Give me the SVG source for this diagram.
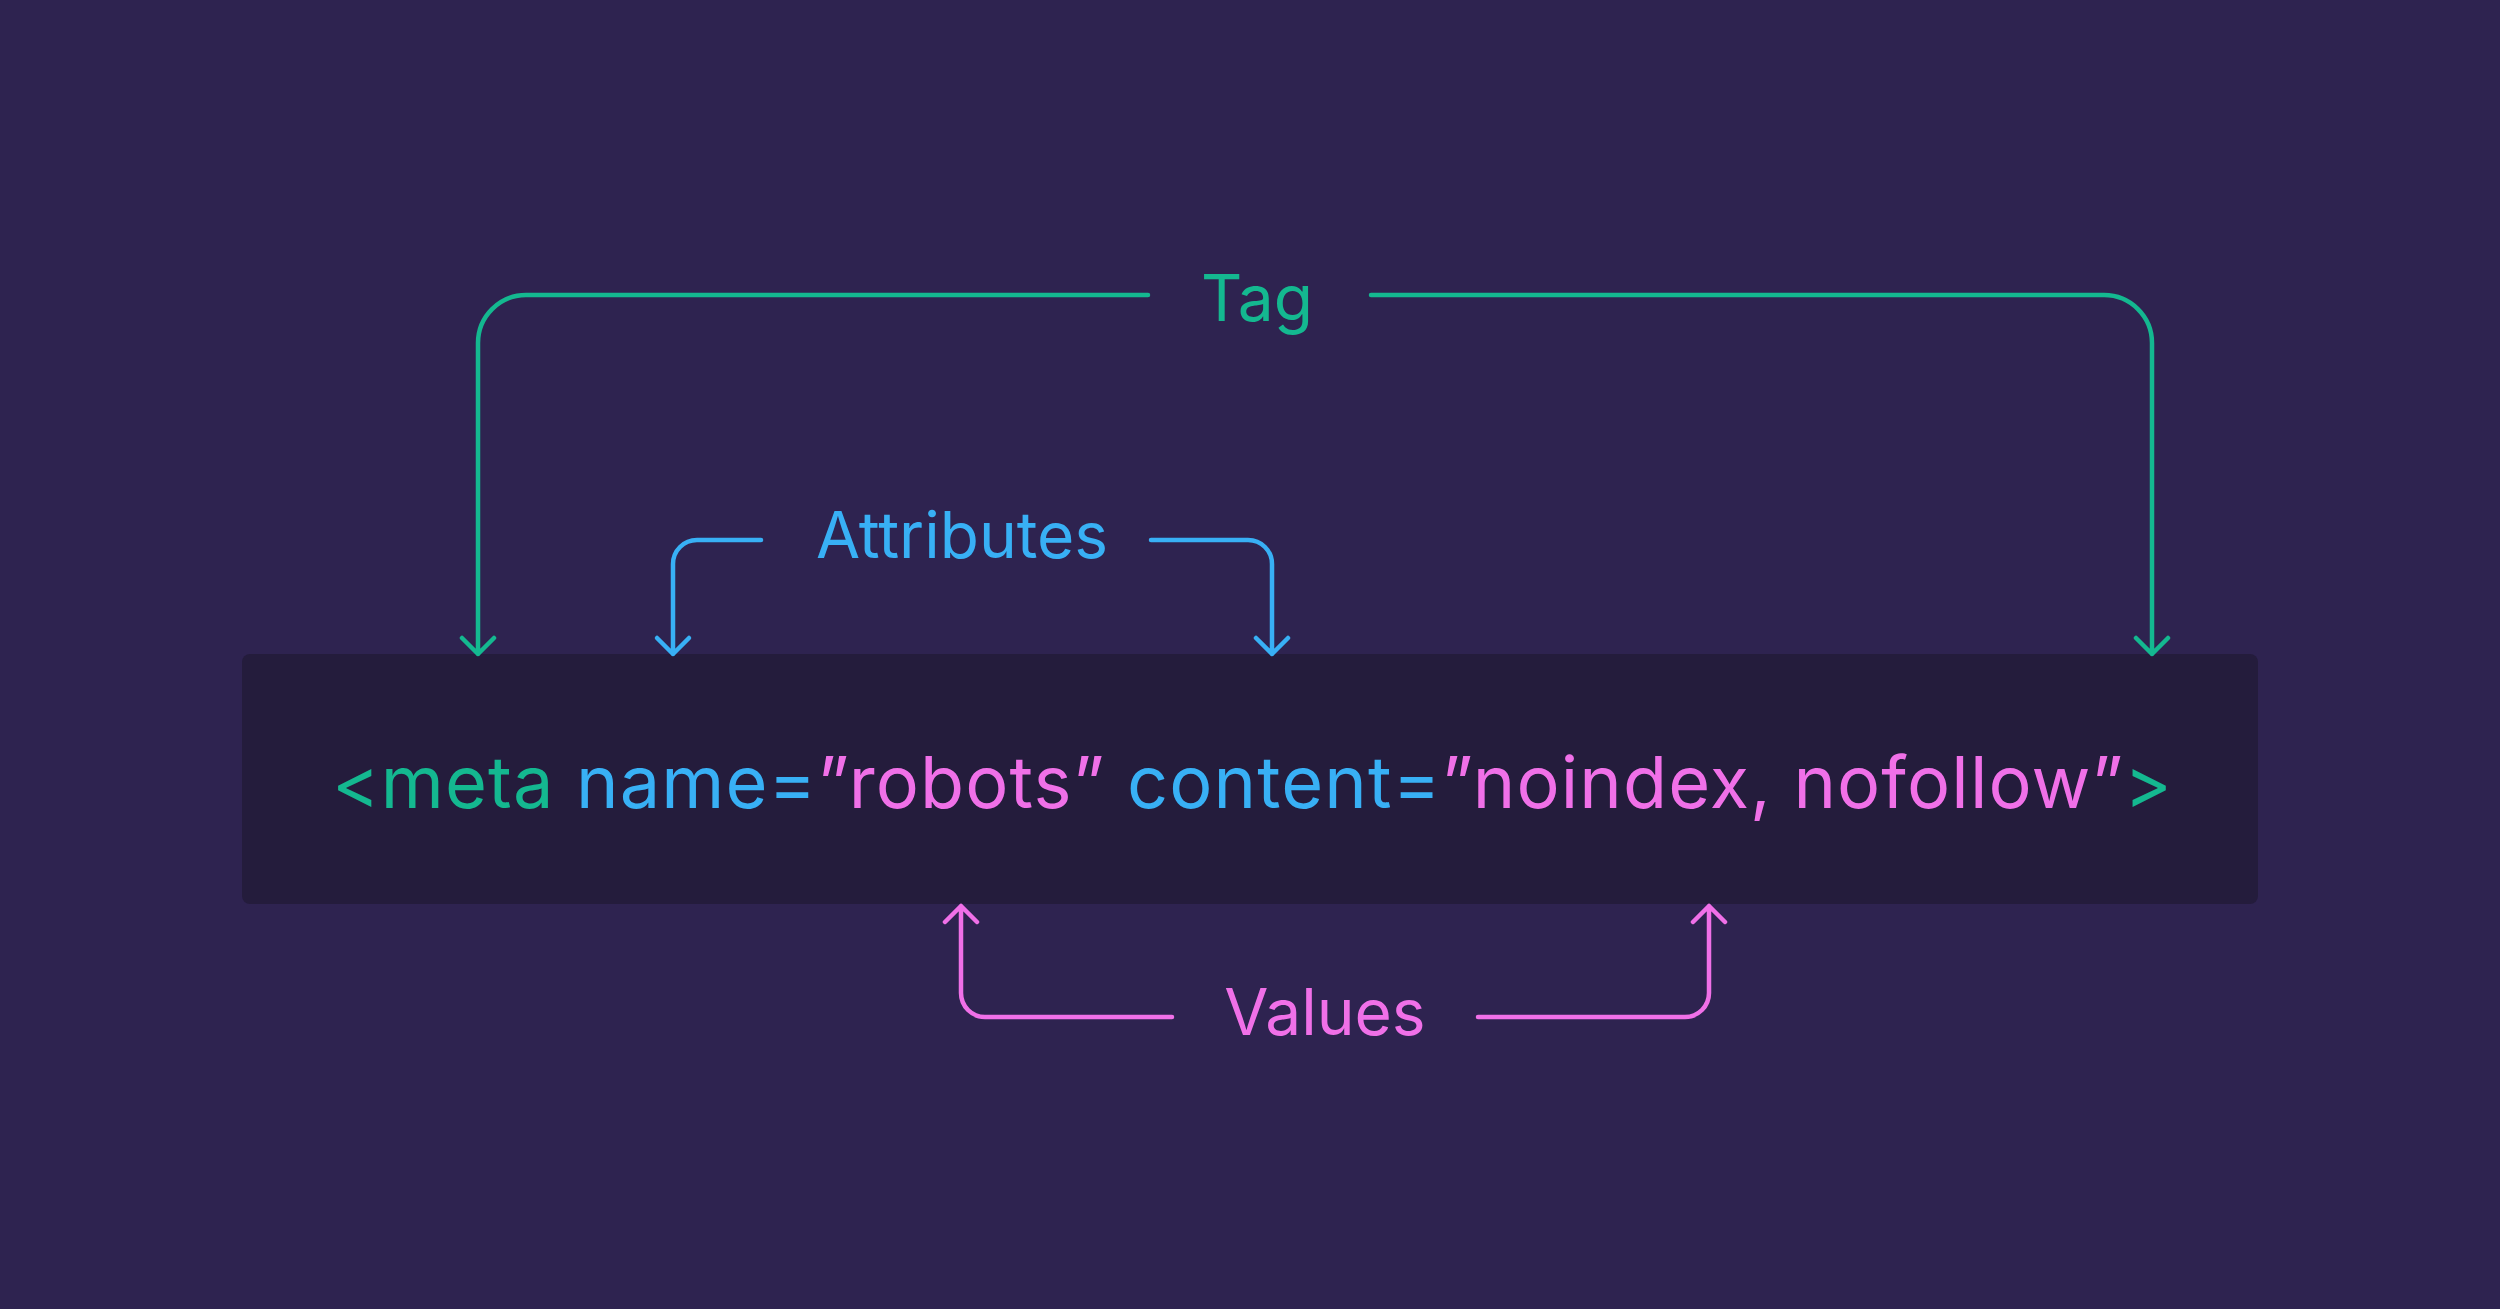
<svg xmlns="http://www.w3.org/2000/svg" width="2500" height="1309" viewBox="0 0 2500 1309">
<style>
.ln{fill:none;stroke-width:4.5;stroke-linecap:round;stroke-linejoin:round}
.g{stroke:#14b890}.b{stroke:#38b0f5}.p{stroke:#f070e8}
.lbl{font-family:Inter,"Liberation Sans",sans-serif;font-size:64px;text-anchor:middle}
</style>
<rect width="2500" height="1309" fill="#2e2350"/>
<g id="codebox">
<rect x="242" y="654" width="2016" height="250" rx="8" fill="#241c3c"/>
<text x="332" y="808" font-family="Inter,'Liberation Sans',sans-serif" font-size="72" textLength="1840" lengthAdjust="spacing"><tspan fill="#14b890">&lt;meta </tspan><tspan fill="#38b0f5">name=</tspan><tspan fill="#f070e8">”robots” </tspan><tspan fill="#38b0f5">content=</tspan><tspan fill="#f070e8">”noindex, nofollow”</tspan><tspan fill="#14b890">&gt;</tspan></text>
</g>
<g id="tag"><text class="lbl" x="1257" y="321" fill="#14b890">Tag</text></g>
<g id="attributes"><text class="lbl" x="962" y="558" fill="#38b0f5">Attributes</text></g>
<g id="values"><text class="lbl" x="1325" y="1035" fill="#f070e8">Values</text></g>
<g id="connectors">
<path class="ln g" d="M1148 295H526a48 48 0 0 0-48 48V654M462 638l16 16 16-16"/>
<path class="ln g" d="M1371 295H2104a48 48 0 0 1 48 48V654M2136 638l16 16 16-16"/>
<path class="ln b" d="M761 540H697a24 24 0 0 0-24 24V654M657 638l16 16 16-16"/>
<path class="ln b" d="M1151 540H1248a24 24 0 0 1 24 24V654M1256 638l16 16 16-16"/>
<path class="ln p" d="M1172 1017H985a24 24 0 0 1-24-24V906M945 922l16-16 16 16"/>
<path class="ln p" d="M1478 1017H1685a24 24 0 0 0 24-24V906M1693 922l16-16 16 16"/>
</g>
</svg>
